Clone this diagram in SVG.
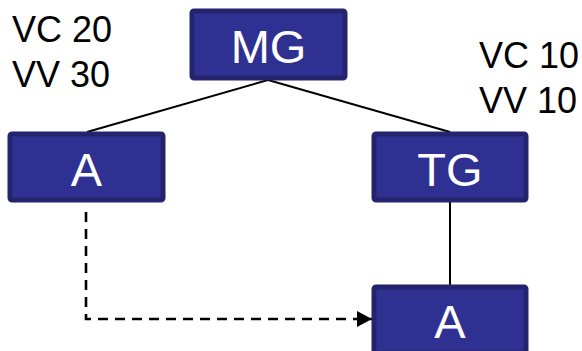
<svg xmlns="http://www.w3.org/2000/svg" width="582" height="351" viewBox="0 0 582 351">
<defs>
<style>
.box{fill:#2e3192;stroke:#24246e;stroke-width:5}
.lbl{font-family:"Liberation Sans",Arial,sans-serif;font-size:47px;fill:#ffffff;text-anchor:middle}
.note{font-family:"Liberation Sans",Arial,sans-serif;font-size:36px;fill:#000000}
.ln{stroke:#000;stroke-width:2;fill:none}
.dash{stroke:#000;stroke-width:2.6;fill:none;stroke-dasharray:10,7}
</style>
<marker id="arr" markerWidth="16" markerHeight="16" refX="15" refY="8" orient="auto" markerUnits="userSpaceOnUse">
<path d="M0,0 L15,8 L0,16 Z" fill="#000"/>
</marker>
</defs>
<rect width="582" height="351" fill="#fff"/>
<g id="connectors">
<line class="ln" x1="268" y1="80" x2="87" y2="132"/>
<line class="ln" x1="268" y1="80" x2="450" y2="132"/>
<line class="ln" x1="450" y1="202" x2="450" y2="286"/>
<path class="dash" d="M86,212 V319 H372" marker-end="url(#arr)"/>
</g>
<g id="note-left">
<text class="note" x="12" y="42">VC 20</text>
<text class="note" x="12" y="87">VV 30</text>
</g>
<g id="note-right">
<text class="note" x="479" y="68">VC 10</text>
<text class="note" x="479" y="113">VV 10</text>
</g>
<g id="node-mg">
<rect class="box" x="192" y="11" width="153" height="67" rx="2"/>
<text class="lbl" x="268.5" y="63">MG</text>
</g>
<g id="node-a1">
<rect class="box" x="10" y="134" width="153" height="66" rx="2"/>
<text class="lbl" x="86.5" y="186">A</text>
</g>
<g id="node-tg">
<rect class="box" x="374" y="134" width="152" height="66" rx="2"/>
<text class="lbl" x="450" y="186">TG</text>
</g>
<g id="node-a2">
<rect class="box" x="374" y="287" width="152" height="66" rx="2"/>
<text class="lbl" x="450" y="338">A</text>
</g>
</svg>
